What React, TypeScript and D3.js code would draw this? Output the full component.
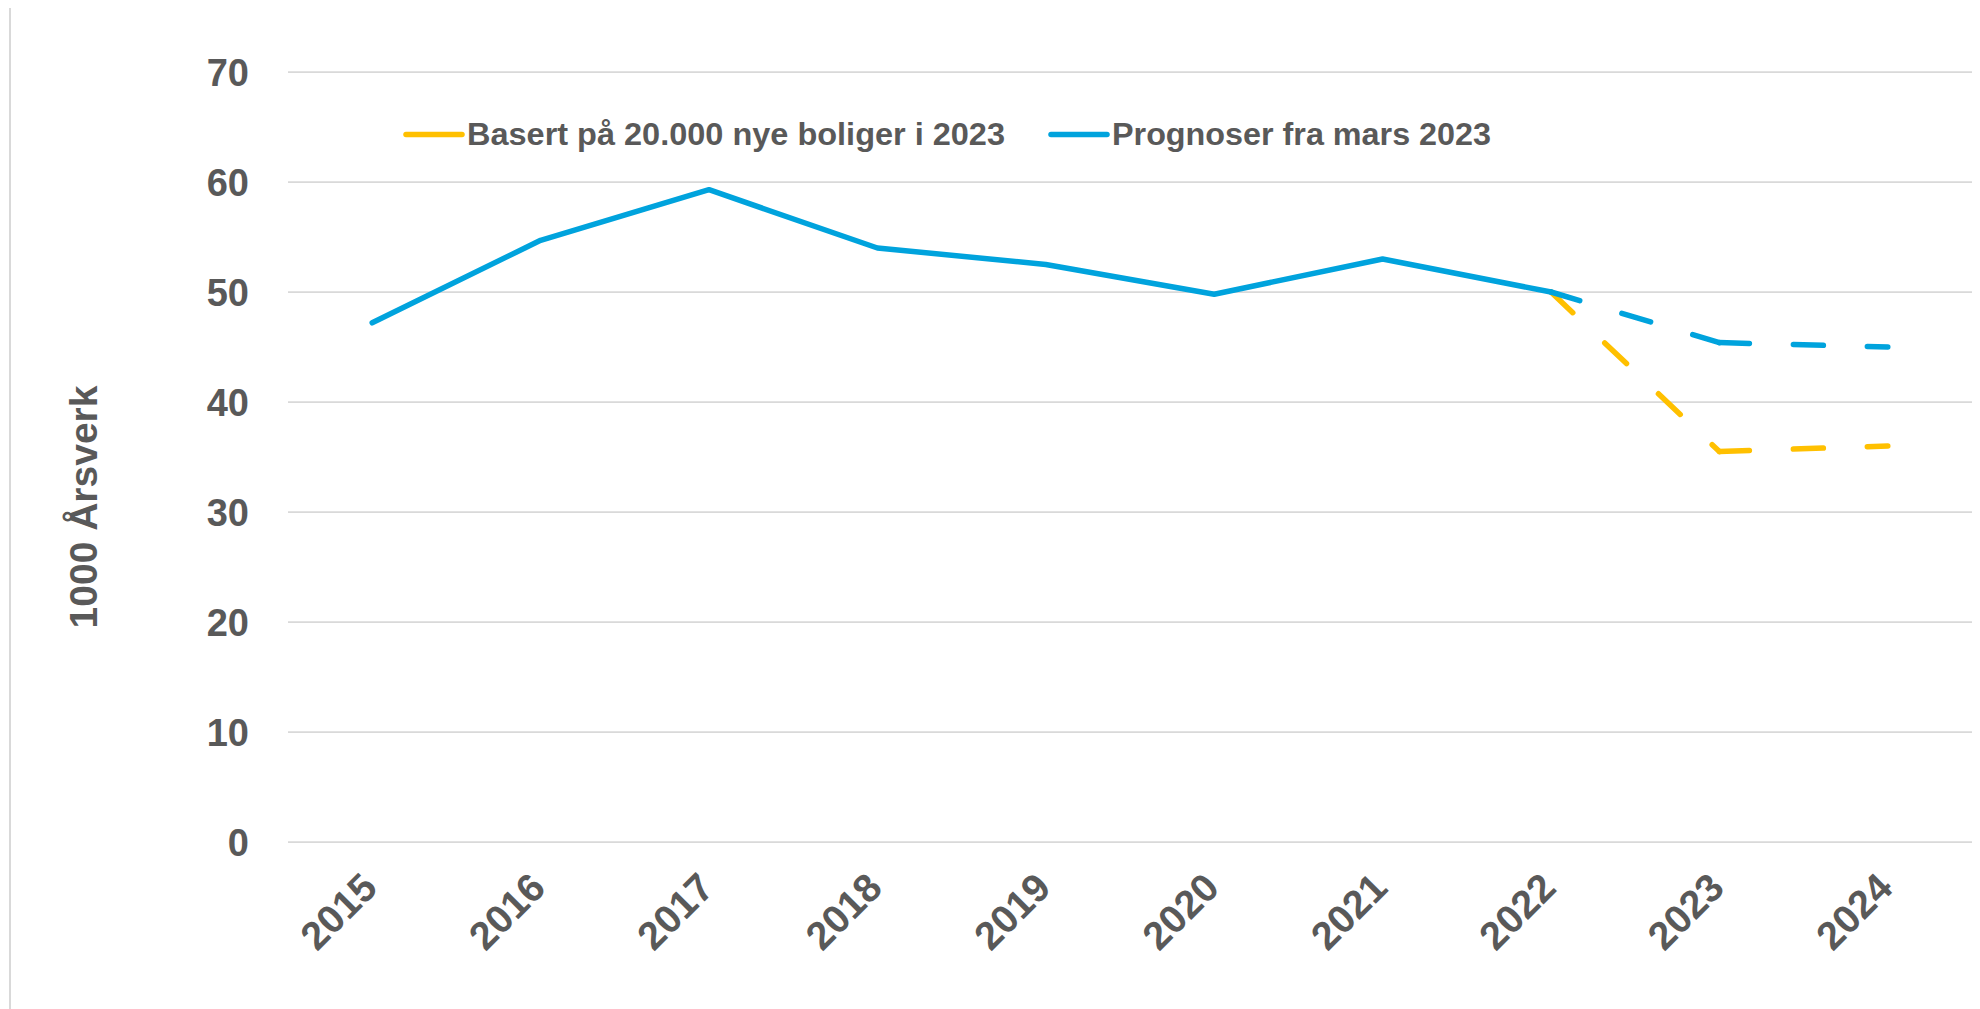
import React from "react";
import * as d3 from "d3";

const years = ["2015", "2016", "2017", "2018", "2019", "2020", "2021", "2022", "2023", "2024"];
const prognoserHist = [47.2, 54.7, 59.3, 54.0, 52.5, 49.8, 53.0, 50.0, null, null];
const prognoserFcst = [null, null, null, null, null, null, null, 50.0, 45.4, 45.0];
const basertFcst = [null, null, null, null, null, null, null, 50.0, 35.5, 36.0];
const yTicks = [0, 10, 20, 30, 40, 50, 60, 70];
const legendLabels = ["Basert på 20.000 nye boliger i 2023", "Prognoser fra mars 2023"];
const yTitle = "1000 Årsverk";

const W = 1980;
const H = 1009;
const plot = { left: 288, right: 1972, top: 72, bottom: 842 };
const BLUE = "#00A3DD";
const YELLOW = "#FFC000";
const TEXT = "#595959";
const GRID = "#D9D9D9";
const FONT = "'Liberation Sans', Arial, Helvetica, sans-serif";

export default function App() {
  const x = d3.scaleBand<string>().domain(years).range([plot.left, plot.right]).padding(0);
  const cx = (i: number) => (x(years[i]) as number) + x.bandwidth() / 2;
  const y = d3.scaleLinear().domain([0, 70]).range([plot.bottom, plot.top]);

  const line = d3
    .line<number | null>()
    .defined((d) => d !== null)
    .x((_, i) => cx(i))
    .y((d) => y(d as number));

  // dashed series drawn segment by segment (dash pattern restarts at each point)
  const segments = (vals: (number | null)[]) => {
    const segs: string[] = [];
    for (let i = 0; i < vals.length - 1; i++) {
      if (vals[i] !== null && vals[i + 1] !== null) {
        const seg = d3
          .line<[number, number]>()
          .x((d) => d[0])
          .y((d) => d[1])([
          [cx(i), y(vals[i] as number)],
          [cx(i + 1), y(vals[i + 1] as number)],
        ]);
        segs.push(seg as string);
      }
    }
    return segs;
  };

  const dash = "30 44";
  const sw = 5.5;

  const legendItems = [
    { label: legendLabels[0], color: YELLOW, x0: 406, w: 538 },
    { label: legendLabels[1], color: BLUE, x0: 1051, w: 379 },
  ];

  return (
    <div style={{ position: "absolute", left: 0, top: 0 }}>
      <svg width={W} height={H} style={{ display: "block" }} fontFamily={FONT}>
        <rect x={0} y={0} width={W} height={H} fill="#fff" />
        <line x1={10} x2={10} y1={8} y2={H} stroke={GRID} strokeWidth={2} />

        {yTicks.map((t) => (
          <g key={t}>
            <line x1={plot.left} x2={plot.right} y1={y(t)} y2={y(t)} stroke={GRID} strokeWidth={1.75} />
            <text
              x={249}
              y={y(t)}
              dy="0.36em"
              textAnchor="end"
              fontSize={38}
              fontWeight="bold"
              fill={TEXT}
            >
              {t}
            </text>
          </g>
        ))}

        {years.map((yr, i) => (
          <text
            key={yr}
            transform={`translate(${cx(i) + 7},${890}) rotate(-45)`}
            textAnchor="end"
            fontSize={39.5}
            fontWeight="bold"
            fill={TEXT}
          >
            {yr}
          </text>
        ))}

        <text
          transform={`translate(97,507) rotate(-90)`}
          textAnchor="middle"
          fontSize={39}
          fontWeight="bold"
          fill={TEXT}
        >
          {yTitle}
        </text>

        {segments(basertFcst).map((d, i) => (
          <path key={"b" + i} d={d} fill="none" stroke={YELLOW} strokeWidth={sw} strokeLinecap="round" strokeDasharray={dash} />
        ))}
        <path d={line(prognoserHist) as string} fill="none" stroke={BLUE} strokeWidth={sw} strokeLinejoin="round" strokeLinecap="round" />
        {segments(prognoserFcst).map((d, i) => (
          <path key={"p" + i} d={d} fill="none" stroke={BLUE} strokeWidth={sw} strokeLinecap="round" strokeDasharray={dash} />
        ))}

        {legendItems.map((it) => (
          <g key={it.label}>
            <line x1={it.x0} x2={it.x0 + 56} y1={134.5} y2={134.5} stroke={it.color} strokeWidth={5.5} strokeLinecap="round" />
            <text
              x={it.x0 + 61}
              y={145}
              fontSize={31.5}
              fontWeight="bold"
              fill={TEXT}
              textLength={it.w}
              lengthAdjust="spacingAndGlyphs"
            >
              {it.label}
            </text>
          </g>
        ))}
      </svg>
    </div>
  );
}
